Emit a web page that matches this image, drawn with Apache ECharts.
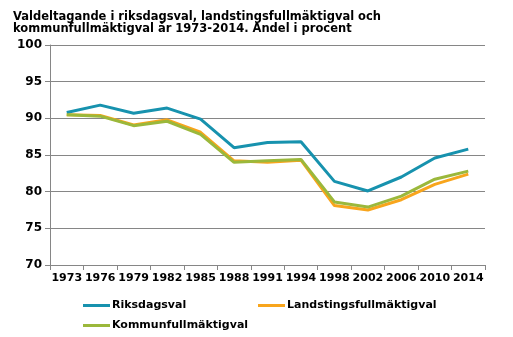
<!DOCTYPE html>
<html>
<head>
<meta charset="utf-8">
<script src="https://cdn.jsdelivr.net/npm/echarts@6/dist/echarts.min.js"></script>
<style>
  html, body { margin: 0; padding: 0; background: #fff; }
  #chart { width: 513px; height: 337px; }
</style>
</head>
<body>
<div id="chart"></div>
<script>
// Election years
const years = ['1973','1976','1979','1982','1985','1988','1991','1994','1998','2002','2006','2010','2014'];

// Turnout, percent
const riksdagsval = [90.8, 91.8, 90.7, 91.4, 89.9, 86.0, 86.7, 86.8, 81.4, 80.1, 82.0, 84.6, 85.8];
const landstingsval = [90.5, 90.4, 89.1, 89.8, 88.1, 84.2, 84.0, 84.3, 78.1, 77.5, 78.9, 81.0, 82.4];
const kommunval = [90.5, 90.3, 89.0, 89.6, 87.8, 84.0, 84.2, 84.4, 78.6, 77.9, 79.4, 81.7, 82.8];

const seriesNames = ['Riksdagsval', 'Landstingsfullmäktigval', 'Kommunfullmäktigval'];
const colors = ['#1792ae', '#f8a51c', '#9bb83b'];

const font = 'DejaVu Sans';
const chart = echarts.init(document.getElementById('chart'), null, { renderer: 'canvas' });

function line(name, data, color, z) {
  return {
    name, type: 'line', data, z,
    symbol: 'none',
    lineStyle: { color, width: 3 },
    itemStyle: { color },
    emphasis: { disabled: true }
  };
}

const legendText = { fontFamily: font, fontSize: 11, fontWeight: 'bold', color: '#000', padding: [0, 0, 0, -3] };
function legendBox(names, left, top) {
  return {
    left, top, orient: 'horizontal',
    padding: 0,
    itemWidth: 27, itemHeight: 3, itemGap: 60,
    icon: 'rect',
    data: names,
    textStyle: legendText,
    selectedMode: false
  };
}

chart.setOption({
  animation: false,
  title: {
    text: 'Valdeltagande i riksdagsval, landstingsfullmäktigval och\nkommunfullmäktigval år 1973-2014. Andel i procent',
    left: 8, top: 6,
    textStyle: { fontFamily: font, fontSize: 11.5, fontWeight: 'bold', color: '#000', lineHeight: 12 }
  },
  grid: { left: 50, right: 28, top: 45, bottom: 72, containLabel: false },
  legend: [
    legendBox([seriesNames[0]], 83, 300),
    legendBox([seriesNames[1]], 258, 300),
    legendBox([seriesNames[2]], 83, 320)
  ],
  xAxis: {
    type: 'category',
    data: years,
    boundaryGap: true,
    axisLine: { lineStyle: { color: '#868686', width: 1 } },
    axisTick: { show: true, alignWithLabel: false, length: 5, lineStyle: { color: '#868686' } },
    axisLabel: { fontFamily: font, fontSize: 11, fontWeight: 'bold', color: '#000', margin: 8, interval: 0 }
  },
  yAxis: {
    type: 'value',
    min: 70, max: 100, interval: 5,
    axisLine: { show: true, lineStyle: { color: '#868686', width: 1 } },
    axisTick: { show: true, length: 5, lineStyle: { color: '#868686' } },
    splitLine: { lineStyle: { color: '#868686', width: 1 } },
    axisLabel: { fontFamily: font, fontSize: 12, fontWeight: 'bold', color: '#000', margin: 8 }
  },
  series: [
    line(seriesNames[0], riksdagsval, colors[0], 3),
    line(seriesNames[1], landstingsval, colors[1], 2),
    line(seriesNames[2], kommunval, colors[2], 4)
  ]
});
</script>
</body>
</html>
